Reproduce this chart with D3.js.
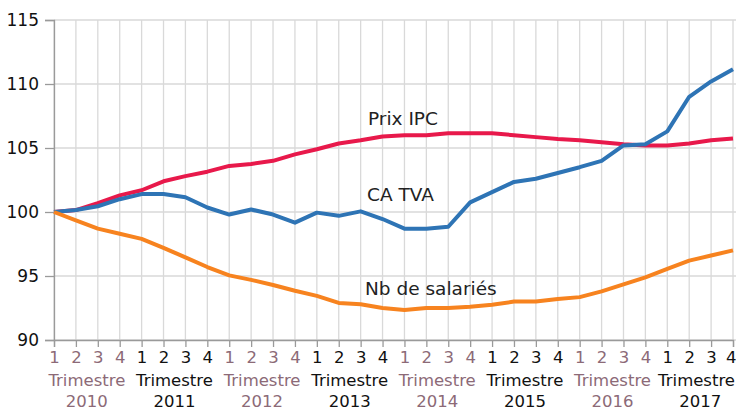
<!DOCTYPE html>
<html><head><meta charset="utf-8">
<script src="https://cdn.jsdelivr.net/npm/d3@7"></script>
<style>body{margin:0;background:#fff}svg{display:block}</style>
</head><body><svg id="c" width="736" height="409"></svg>
<script>
const years = [2010, 2011, 2012, 2013, 2014, 2015, 2016, 2017];
const quarters = [1, 2, 3, 4];
const groupLabel = "Trimestre";
const yTicks = [90, 95, 100, 105, 110, 115];
const prixIPC = [100, 100.15, 100.7, 101.3, 101.7, 102.4, 102.8, 103.15, 103.6, 103.75, 104.0, 104.5, 104.9, 105.35, 105.6, 105.9,
  106.0, 106.0, 106.15, 106.15, 106.15, 106.0, 105.85, 105.7, 105.6, 105.45, 105.3, 105.2, 105.2, 105.35, 105.6, 105.75];
const caTVA = [100, 100.15, 100.45, 101.0, 101.4, 101.4, 101.15, 100.35, 99.8, 100.2, 99.8, 99.17, 99.95, 99.7, 100.05, 99.45,
  98.7, 98.7, 98.85, 100.75, 101.55, 102.35, 102.6, 103.05, 103.5, 104.0, 105.2, 105.3, 106.3, 109.0, 110.2, 111.15];
const nbSalaries = [100, 99.35, 98.7, 98.3, 97.9, 97.2, 96.45, 95.7, 95.05, 94.7, 94.3, 93.85, 93.45, 92.9, 92.8, 92.5,
  92.35, 92.5, 92.5, 92.6, 92.75, 93.0, 93.0, 93.2, 93.35, 93.8, 94.35, 94.9, 95.55, 96.2, 96.6, 97.0];
const seriesNames = ["Prix IPC", "CA TVA", "Nb de salariés"];

const series = [
  {name: seriesNames[0], values: prixIPC, color: "#e8194b", lx: 368, ly: 125},
  {name: seriesNames[1], values: caTVA, color: "#2e74b5", lx: 367, ly: 201},
  {name: seriesNames[2], values: nbSalaries, color: "#f7831f", lx: 365, ly: 295}
];

const svg = d3.select("#c");
const font = "DejaVu Sans";
const n = years.length * quarters.length;
const x = d3.scaleLinear().domain([0, n - 1]).range([54, 733]);
const y = d3.scaleLinear().domain([90, 115]).range([340, 20]);

const grid = svg.append("g");
grid.selectAll(".v").data(d3.range(n)).join("line")
  .attr("x1", d => x(d)).attr("x2", d => x(d)).attr("y1", 20).attr("y2", 340)
  .attr("stroke", "#d9d9d9").attr("stroke-width", 1.3);
grid.selectAll(".h").data(yTicks).join("line")
  .attr("x1", 54).attr("x2", 736).attr("y1", d => y(d)).attr("y2", d => y(d))
  .attr("stroke", "#d9d9d9").attr("stroke-width", 1.3);

// y axis
const ya = svg.append("g").attr("transform", "translate(54,0)")
  .call(d3.axisLeft(y).tickValues(yTicks).tickSize(9).tickPadding(6));
ya.select(".domain").attr("stroke", "#9a9a9a").attr("stroke-width", 1.3);
ya.selectAll(".tick line").attr("stroke", "#9a9a9a").attr("stroke-width", 1.3);
ya.selectAll("text").attr("font-family", font).attr("font-size", 17).attr("fill", "#111");

// x axis
const xa = svg.append("g").attr("transform", "translate(0,340)")
  .call(d3.axisBottom(x).tickValues(d3.range(n)).tickSize(7).tickFormat(d => quarters[d % 4]).tickPadding(4));
xa.select(".domain").attr("stroke", "#9a9a9a").attr("stroke-width", 1.3);
xa.selectAll(".tick line").attr("stroke", "#9a9a9a").attr("stroke-width", 1.3);
xa.selectAll("text").attr("font-family", font).attr("font-size", 16.5)
  .attr("fill", d => Math.floor(d / 4) % 2 === 0 ? "#8c6a77" : "#111")
  .attr("text-anchor", d => d === n - 1 ? "end" : "middle")
  .attr("dx", d => d === n - 1 ? "3" : "0");

const grp = svg.append("g");
years.forEach((yr, i) => {
  const cx = (x(i * 4) + x(i * 4 + 3)) / 2;
  const col = i % 2 === 0 ? "#8c6a77" : "#111";
  const last = i === years.length - 1;
  grp.append("text").attr("x", last ? 735 : cx).attr("y", 385.5)
    .attr("text-anchor", last ? "end" : "middle")
    .attr("font-family", font).attr("font-size", 16.5).attr("fill", col).text(groupLabel);
  grp.append("text").attr("x", cx).attr("y", 406.5).attr("text-anchor", "middle")
    .attr("font-family", font).attr("font-size", 16.5).attr("fill", col).text(yr);
});

const line = d3.line().x((d, i) => x(i)).y(d => y(d));
series.forEach(s => {
  svg.append("path").attr("d", line(s.values)).attr("fill", "none")
    .attr("stroke", s.color).attr("stroke-width", 4).attr("stroke-linejoin", "round");
  svg.append("text").attr("x", s.lx).attr("y", s.ly)
    .attr("font-family", font).attr("font-size", 18.5).attr("fill", "#222").text(s.name);
});
</script></body></html>
